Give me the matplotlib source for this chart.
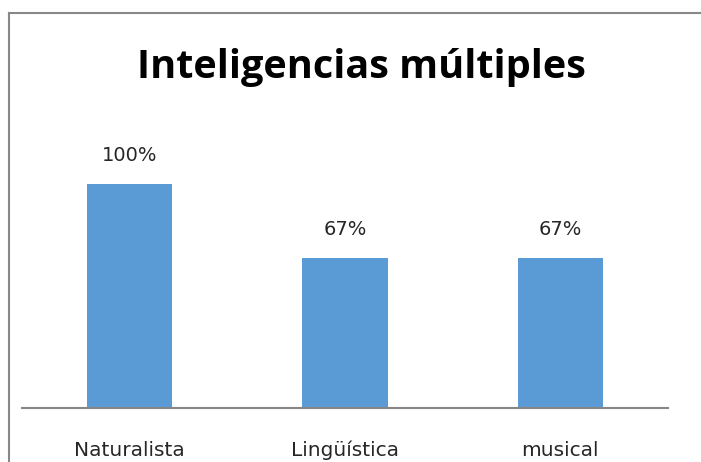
import matplotlib.pyplot as plt
from matplotlib.lines import Line2D

# chart data
categories = ["Naturalista", "Lingüística", "musical"]
values = [100, 67, 67]
title = "Inteligencias múltiples"

W, H = 701, 462
plt.rcParams['font.family'] = ['DejaVu Sans']

fig = plt.figure(figsize=(W / 100, H / 100), dpi=100)

# plot area placed in pixel coords of the reference
left, right = 22, 668
base, top = 407.5, 139
ax = fig.add_axes([left / W, (H - base) / H, (right - left) / W, (base - top) / H])

x = list(range(len(categories)))
ax.bar(x, values, width=0.395, color="#5B9BD5")
ax.set_xlim(-0.5, len(categories) - 0.5)
ax.set_ylim(0, 120)

# value labels above bars
for xi, v in zip(x, values):
    ax.text(xi, v + 10.3, f"{v}%", ha="center", va="baseline", fontsize=14, color="#262626")

ax.set_xticks(x)
ax.set_xticklabels(categories, fontsize=14.5, color="#262626", va="baseline")
ax.tick_params(axis="x", length=0, pad=34.9)
ax.set_yticks([])
for side in ["top", "right", "left"]:
    ax.spines[side].set_visible(False)
ax.spines["bottom"].set_color("#868686")
ax.spines["bottom"].set_linewidth(1.5)

fig.text(361 / W, 1 - 78 / H, title, ha="center", va="baseline",
         fontsize=28.5, fontweight="bold", color="black", family=["Open Sans", "DejaVu Sans"])

# outer chart frame (top and left edges visible)
fig.add_artist(Line2D([9 / W, 9 / W], [0, 1 - 13 / H], color="#888888", lw=1.5, transform=fig.transFigure))
fig.add_artist(Line2D([9 / W, 1], [1 - 13 / H, 1 - 13 / H], color="#888888", lw=1.5, transform=fig.transFigure))

fig.savefig("out.png", dpi=100)
